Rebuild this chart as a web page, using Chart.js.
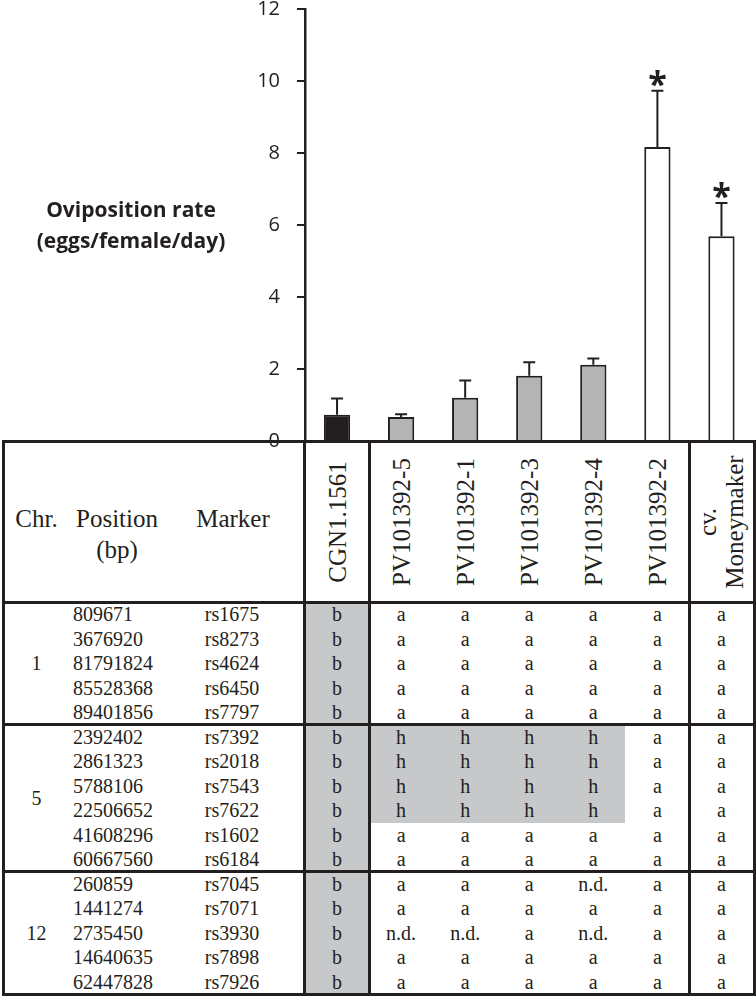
<!DOCTYPE html>
<html>
<head>
<meta charset="utf-8">
<script src="https://cdn.jsdelivr.net/npm/chart.js@4.4.1/dist/chart.umd.min.js"></script>
<style>
    body { margin: 0; background: #fff; }
    #wrap { position: relative; width: 756px; height: 996px; overflow: hidden; }
    #chart { position: absolute; left: 0; top: 0; z-index: 2; }
    .ytitle { position: absolute; left: 0; top: 194px; width: 262px; text-align: center;
              font: bold 21px "Open Sans"; line-height: 31px; color: #231f20; z-index: 3; }
    .cell { position: absolute; font-family: "Liberation Serif"; color: #231f20; white-space: pre; }
    .fill { position: absolute; background: #c7c8ca; }
    .line { position: absolute; background: #231f20; z-index: 1; }
</style>
</head>
<body>
<div id="wrap">
    <canvas id="chart" width="756" height="460"></canvas>
    <div class="ytitle">Oviposition rate<br>(eggs/female/day)</div>
</div>
<script>
// bar chart data
const categories = ['CGN1.1561', 'PV101392-5', 'PV101392-1', 'PV101392-3', 'PV101392-4', 'PV101392-2', 'cv.\nMoneymaker'];
const rates = [0.73, 0.67, 1.20, 1.81, 2.12, 8.17, 5.69];
const errors = [0.45, 0.07, 0.48, 0.38, 0.17, 1.56, 0.92];
const significant = [false, false, false, false, false, true, true];
const yTicks = [0, 2, 4, 6, 8, 10, 12];

// genotype table data
const chrNames = ['1', '5', '12'];
const chrRowCounts = [5, 6, 5];
const positions = ['809671', '3676920', '81791824', '85528368', '89401856',
    '2392402', '2861323', '5788106', '22506652', '41608296', '60667560',
    '260859', '1441274', '2735450', '14640635', '62447828'];
const markers = ['rs1675', 'rs8273', 'rs4624', 'rs6450', 'rs7797',
    'rs7392', 'rs2018', 'rs7543', 'rs7622', 'rs1602', 'rs6184',
    'rs7045', 'rs7071', 'rs3930', 'rs7898', 'rs7926'];
const genotypes = [
    ['b', 'a', 'a', 'a', 'a', 'a', 'a'],
    ['b', 'a', 'a', 'a', 'a', 'a', 'a'],
    ['b', 'a', 'a', 'a', 'a', 'a', 'a'],
    ['b', 'a', 'a', 'a', 'a', 'a', 'a'],
    ['b', 'a', 'a', 'a', 'a', 'a', 'a'],
    ['b', 'h', 'h', 'h', 'h', 'a', 'a'],
    ['b', 'h', 'h', 'h', 'h', 'a', 'a'],
    ['b', 'h', 'h', 'h', 'h', 'a', 'a'],
    ['b', 'h', 'h', 'h', 'h', 'a', 'a'],
    ['b', 'a', 'a', 'a', 'a', 'a', 'a'],
    ['b', 'a', 'a', 'a', 'a', 'a', 'a'],
    ['b', 'a', 'a', 'a', 'n.d.', 'a', 'a'],
    ['b', 'a', 'a', 'a', 'a', 'a', 'a'],
    ['b', 'n.d.', 'n.d.', 'a', 'n.d.', 'a', 'a'],
    ['b', 'a', 'a', 'a', 'a', 'a', 'a'],
    ['b', 'a', 'a', 'a', 'a', 'a', 'a']
];

const ink = '#231f20';
const barColors = ['#231f20', '#b2b4b6', '#b2b4b6', '#b2b4b6', '#b2b4b6', '#ffffff', '#ffffff'];
const shaded = ['b', 'h'];

// error bars (upper only) and significance stars
const errorBars = {
    id: 'errorBars',
    afterDatasetsDraw(chart) {
        const ctx = chart.ctx;
        const y = chart.scales.y;
        const meta = chart.getDatasetMeta(0);
        ctx.save();
        ctx.strokeStyle = ink;
        ctx.fillStyle = ink;
        ctx.lineWidth = 2;
        meta.data.forEach(function (bar, i) {
            const top = y.getPixelForValue(rates[i] + errors[i]);
            ctx.beginPath();
            ctx.moveTo(bar.x, bar.y);
            ctx.lineTo(bar.x, top);
            ctx.moveTo(bar.x - 6, top);
            ctx.lineTo(bar.x + 6, top);
            ctx.stroke();
            if (significant[i]) {
                ctx.font = 'bold 34px "Open Sans"';
                ctx.textAlign = 'center';
                ctx.textBaseline = 'alphabetic';
                ctx.fillText('*', bar.x, top + 5);
            }
        });
        ctx.restore();
    }
};

const chart = new Chart(document.getElementById('chart'), {
    type: 'bar',
    data: {
        labels: categories,
        datasets: [{
            data: rates,
            backgroundColor: barColors,
            borderColor: ink,
            borderWidth: 2,
            barPercentage: 0.41,
            categoryPercentage: 1
        }]
    },
    options: {
        responsive: false,
        animation: false,
        devicePixelRatio: 1,
        layout: { padding: { left: 0, right: 2.5, top: 9, bottom: 0 } },
        plugins: { legend: { display: false }, tooltip: { enabled: false } },
        scales: {
            x: {
                grid: { display: false },
                ticks: { display: false },
                border: { color: ink, width: 2.5 },
                afterFit: function (s) { s.height = 19; s.paddingLeft = 0; s.paddingRight = 0; }
            },
            y: {
                min: 0,
                max: 12,
                afterBuildTicks: function (s) { s.ticks = yTicks.map(v => ({ value: v })); },
                ticks: { font: { family: 'Open Sans', size: 20 }, color: ink, padding: 17 },
                grid: { drawOnChartArea: false, tickLength: 8, color: ink, lineWidth: 2 },
                border: { color: ink, width: 2.5 },
                afterFit: function (s) { s.width = 305; s.paddingTop = 0; s.paddingBottom = 0; }
            }
        }
    },
    plugins: [errorBars]
});

// table under the chart, columns lined up with the bars
const wrap = document.getElementById('wrap');
const xs = chart.scales.x;
const half = (xs.getPixelForValue(1) - xs.getPixelForValue(0)) / 2;
const colCenter = i => xs.getPixelForValue(i);
const colLeft = i => colCenter(i) - half;

const tableTop = 441;
const headBottom = 602;
const rowH = 24.5;
const tableBottom = headBottom + positions.length * rowH;

function addDiv(cls, css, text) {
    const d = document.createElement('div');
    d.className = cls;
    Object.assign(d.style, css);
    if (text !== undefined) d.textContent = text;
    wrap.appendChild(d);
    return d;
}

// header
addDiv('cell', { left: '0px', width: '73px', top: '503px', textAlign: 'center', fontSize: '25px', lineHeight: '31px' }, 'Chr.');
addDiv('cell', { left: '57px', width: '120px', top: '503px', textAlign: 'center', fontSize: '25px', lineHeight: '31px' }, 'Position\n(bp)');
addDiv('cell', { left: '173px', width: '120px', top: '503px', textAlign: 'center', fontSize: '25px', lineHeight: '31px' }, 'Marker');
categories.forEach(function (name, i) {
    addDiv('cell', {
        left: colCenter(i) + 'px', top: ((tableTop + headBottom) / 2) + 'px',
        fontSize: '25px', lineHeight: '27px', textAlign: 'center',
        transform: 'translate(-50%, -50%) rotate(-90deg)'
    }, name);
});

// body rows
let row = 0;
chrNames.forEach(function (chr, g) {
    const groupTop = headBottom + row * rowH;
    addDiv('cell', {
        left: '0px', width: '73px', top: groupTop + 'px', height: (chrRowCounts[g] * rowH) + 'px',
        textAlign: 'center', fontSize: '20px', lineHeight: (chrRowCounts[g] * rowH) + 'px'
    }, chr);
    row += chrRowCounts[g];
});

positions.forEach(function (pos, r) {
    const top = headBottom + r * rowH;
    const base = { top: top + 'px', fontSize: '20px', lineHeight: rowH + 'px', height: rowH + 'px' };
    addDiv('cell', Object.assign({ left: '73px' }, base), pos);
    addDiv('cell', Object.assign({ left: '172px', width: '120px', textAlign: 'center' }, base), markers[r]);
    genotypes[r].forEach(function (g, c) {
        if (shaded.includes(g)) {
            addDiv('fill', { left: colLeft(c) + 'px', top: top + 'px', width: (2 * half) + 'px', height: rowH + 'px' });
        }
        addDiv('cell', Object.assign({ left: colLeft(c) + 'px', width: (2 * half) + 'px', textAlign: 'center' }, base), g);
    });
});

// table rules
const lw = 3;
const hRules = [tableTop, headBottom];
let acc = 0;
chrRowCounts.forEach(function (n) { acc += n; hRules.push(headBottom + acc * rowH); });
hRules.forEach(function (y) {
    addDiv('line', { left: '1.5px', width: '754.5px', top: (y - lw / 2) + 'px', height: lw + 'px' });
});
const vRules = [3.3, xs.left - 0.5, colLeft(1), colLeft(6), 754.5];
vRules.forEach(function (x) {
    addDiv('line', { left: (x - lw / 2) + 'px', width: lw + 'px', top: (tableTop - lw / 2) + 'px', height: (tableBottom - tableTop + lw) + 'px' });
});
</script>
</body>
</html>
